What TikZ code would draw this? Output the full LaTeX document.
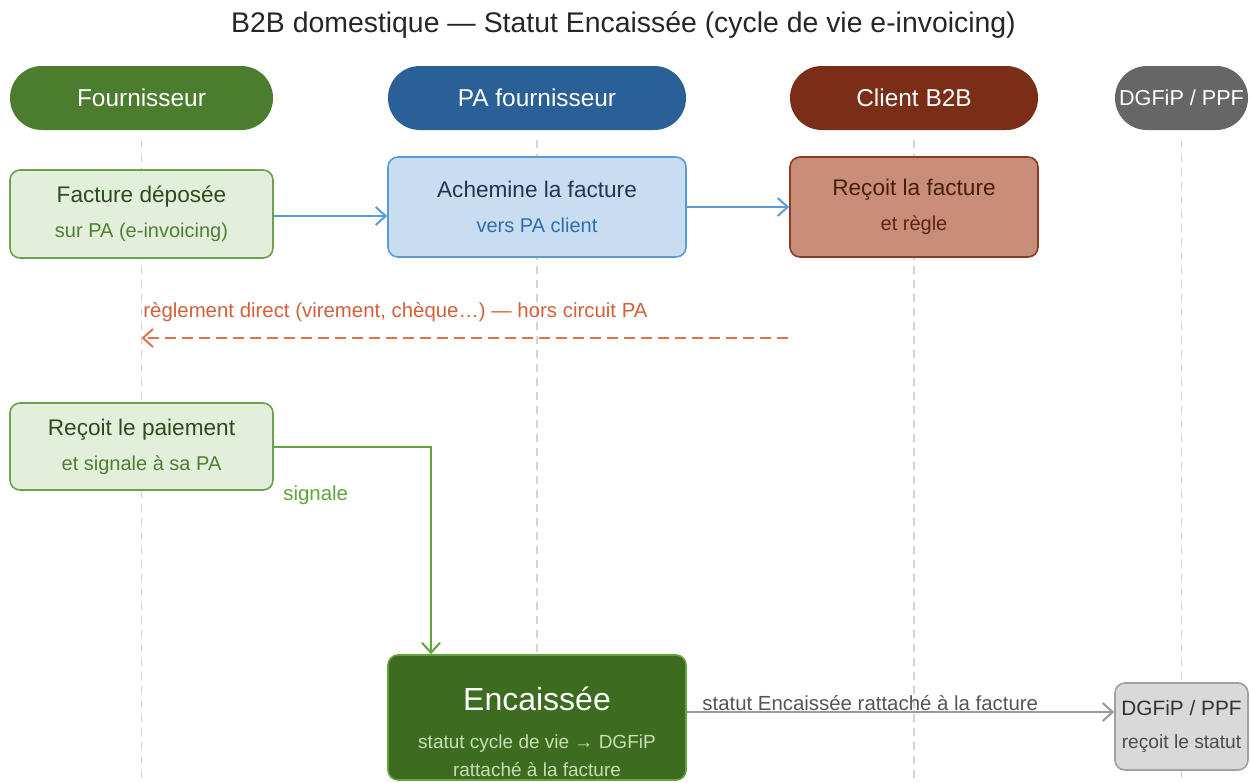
\documentclass[tikz,border=0pt]{standalone}
\usepackage{fontspec}
\setmainfont{Liberation Sans}
\usetikzlibrary{arrows.meta}
\definecolor{fourn}{HTML}{4C7D2E}
\definecolor{pafourn}{HTML}{2A5F98}
\definecolor{client}{HTML}{7A2E18}
\definecolor{dgfip}{HTML}{666666}
\definecolor{greenfill}{HTML}{E2EFDA}
\definecolor{greenline}{HTML}{6FA04D}
\definecolor{greentxt}{HTML}{2F4A20}
\definecolor{greensub}{HTML}{4F7E34}
\definecolor{bluefill}{HTML}{C8DEF0}
\definecolor{blueline}{HTML}{5B9BD5}
\definecolor{bluetxt}{HTML}{1F3550}
\definecolor{bluesub}{HTML}{2F6EAE}
\definecolor{brownfill}{HTML}{C98E7A}
\definecolor{brownline}{HTML}{8A3B22}
\definecolor{browntxt}{HTML}{4A1C10}
\definecolor{brownsub}{HTML}{5A2414}
\definecolor{encfill}{HTML}{3D6B20}
\definecolor{encline}{HTML}{64A23F}
\definecolor{encsub}{HTML}{C6E0B4}
\definecolor{grayfill}{HTML}{D9D9D9}
\definecolor{grayline}{HTML}{A0A0A0}
\definecolor{dashorange}{HTML}{E0734F}
\definecolor{textorange}{HTML}{D2603A}
\definecolor{signgreen}{HTML}{5FA53C}
\definecolor{arrowgray}{HTML}{9A9A9A}
\definecolor{labelgray}{HTML}{555555}
\definecolor{lifegray}{HTML}{D4D4D4}
\newcommand\boxsub[2]{{\fontsize{10}{12}\selectfont\color{#1}#2}}
\begin{document}
\begin{tikzpicture}[x=0.5pt, y=-0.5pt,
	head/.style={rounded corners=15.9pt, minimum height=32pt, text=white, inner sep=0pt},
	box/.style={rounded corners=5pt, line width=0.8pt, align=center, inner sep=0pt, font=\fontsize{11.3}{17.5}\selectfont},
	lifeline/.style={draw=lifegray, line width=0.8pt, dash pattern=on 4pt off 3pt},
	flow/.style={line width=1pt, -{Straight Barb[length=5pt,width=9pt]}},
	lbl/.style={anchor=west, inner sep=0pt, font=\fontsize{10.2}{12}\selectfont}]
	\useasboundingbox (0,0) rectangle (1251,782);
	\node[font=\fontsize{14.2}{16}\selectfont, text=black!85] (title) at (623.5,25) {B2B domestique — Statut Encaissée (cycle de vie e-invoicing)};
	% lanes
	\foreach \i/\x/\w/\fs/\col/\txt in {1/141.5/131.5/12.2/fourn/Fournisseur, 2/537/149/12.2/pafourn/PA fournisseur, 3/914/124/12.2/client/Client B2B, 4/1181.5/66.5/10.8/dgfip/{DGFiP / PPF}}{%
		\node[head, fill=\col, minimum width=\w pt, font=\fontsize{\fs}{14}\selectfont] (hdr-\i) at (\x,98) {\txt};
		\draw[lifeline] ([yshift=-5pt]hdr-\i.south) -- (hdr-\i.south |- 0,782);
	}
	% steps
	\node[box, fill=greenfill, draw=greenline, minimum width=131.5pt, minimum height=44pt] (depot) at (141.5,214) {\textcolor{greentxt}{Facture déposée}\\\boxsub{greensub}{sur PA (e-invoicing)}};
	\node[box, fill=bluefill, draw=blueline, minimum width=149pt, minimum height=50pt] (achem) at (537,207) {\textcolor{bluetxt}{Achemine la facture}\\\boxsub{bluesub}{vers PA client}};
	\node[box, fill=brownfill, draw=brownline, minimum width=124pt, minimum height=50pt] (recoit) at (914,207) {\textcolor{browntxt}{Reçoit la facture}\\\boxsub{brownsub}{et règle}};
	\node[box, fill=greenfill, draw=greenline, minimum width=131.5pt, minimum height=43.5pt] (paiem) at (141.5,446.5) {\textcolor{greentxt}{Reçoit le paiement}\\\boxsub{greensub}{et signale à sa PA}};
	\node[box, fill=encfill, draw=encline, minimum width=149pt, minimum height=62.5pt, font=\fontsize{16}{20}\selectfont] (encai) at (537,717.5) {\textcolor{white}{\rule{0pt}{26pt}Encaissée}\\[-1pt]{\fontsize{9.5}{12}\selectfont\color{encsub}statut cycle de vie → DGFiP}\\[-6pt]{\fontsize{9.5}{12}\selectfont\color{encsub}rattaché à la facture}};
	\node[box, fill=grayfill, draw=grayline, minimum width=66.5pt, minimum height=43.5pt, font=\fontsize{10.4}{16.5}\selectfont] (ppf) at (1181.5,726.5) {\textcolor{black!80}{DGFiP / PPF}\\{\fontsize{9.6}{12}\selectfont\color{black!70}reçoit le statut}};
	% messages
	\draw[flow, blueline] ([yshift=-1pt]depot.east) -- ([yshift=-1pt]depot.east -| achem.west);
	\draw[flow, blueline] (achem.east) -- (recoit.west);
	\coordinate (regl) at (788,338);
	\draw[flow, dashorange, dash pattern=on 5.5pt off 3pt] (regl) -- (hdr-1 |- regl);
	\node[lbl, text=textorange] (regl-lbl) at (143,312) {règlement direct (virement, chèque…) — hors circuit PA};
	\draw[flow, signgreen] (paiem.east) -| ([xshift=-53pt]encai.north);
	\node[lbl, text=signgreen] (sign-lbl) at (283,495) {signale};
	\draw[flow, arrowgray] ([yshift=2.75pt]encai.east) -- ([yshift=2.75pt]encai.east -| ppf.west);
	\node[lbl, text=labelgray] (statut-lbl) at (702,703) {statut Encaissée rattaché à la facture};
\end{tikzpicture}
\end{document}
